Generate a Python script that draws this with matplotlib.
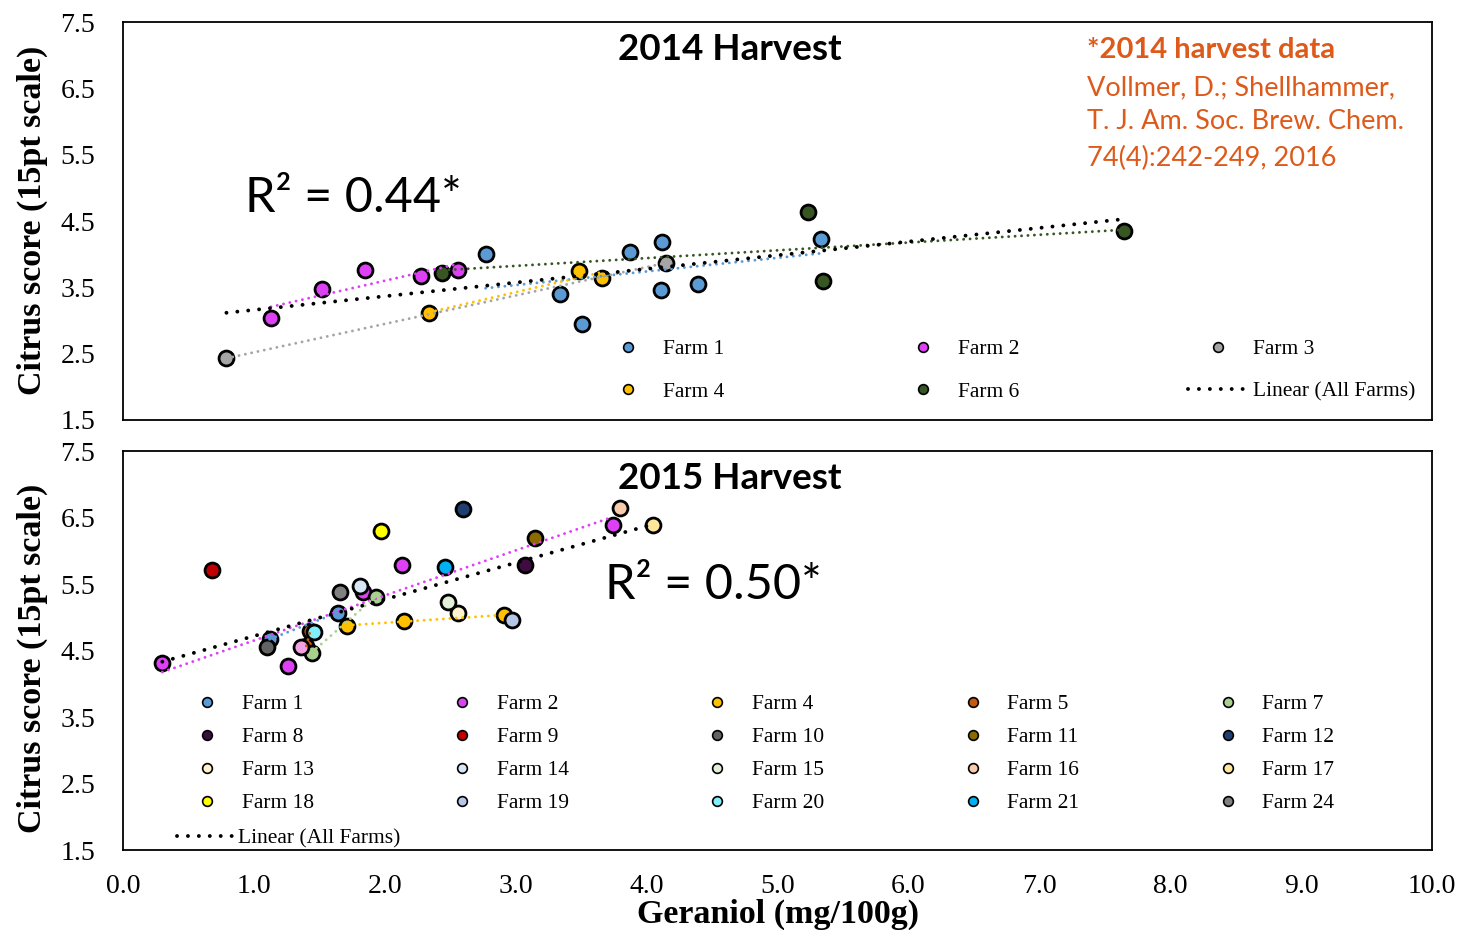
import numpy as np
import matplotlib
matplotlib.use('Agg')
from matplotlib import pyplot as plt
from matplotlib.lines import Line2D

plt.rcParams['font.family'] = ['Liberation Serif', 'DejaVu Serif']

# 2014 harvest: geraniol (mg/100g) vs citrus score
farms_2014 = ['Farm 1', 'Farm 2', 'Farm 3', 'Farm 4', 'Farm 6']
colors_2014 = ['#5B9BD5', '#DD40F5', '#A5A5A5', '#FFC000', '#375623']
x_2014 = [
    [2.77, 3.34, 3.51, 3.87, 4.11, 4.12, 4.39, 5.33],
    [1.13, 1.52, 1.85, 2.28, 2.56],
    [0.79, 4.15],
    [2.34, 3.48, 3.66],
    [2.44, 5.23, 5.35, 7.65],
]
y_2014 = [
    [4.00, 3.40, 2.95, 4.03, 3.46, 4.18, 3.55, 4.23],
    [3.04, 3.47, 3.76, 3.67, 3.76],
    [2.43, 3.87],
    [3.11, 3.75, 3.64],
    [3.72, 4.64, 3.60, 4.35],
]

# 2015 harvest
farms_2015 = ['Farm 1', 'Farm 2', 'Farm 4', 'Farm 5', 'Farm 7', 'Farm 8', 'Farm 9',
              'Farm 10', 'Farm 11', 'Farm 12', 'Farm 13', 'Farm 14', 'Farm 15',
              'Farm 16', 'Farm 17', 'Farm 18', 'Farm 19', 'Farm 20', 'Farm 21',
              'Farm 24', '_extra']
colors_2015 = ['#5B9BD5', '#DD40F5', '#FFC000', '#C55A11', '#A9D18E', '#3F0C3F',
               '#C00000', '#636363', '#8C6A00', '#203F70', '#FFF2CC', '#D6E6F5',
               '#E2F0D9', '#F8CBAD', '#FFE699', '#FFFF00', '#B4C7E7', '#7FEFFA',
               '#00B0F0', '#808080', '#F2A2E2']
x_2015 = [
    [1.12, 1.64],
    [0.30, 1.26, 1.83, 2.13, 3.74],
    [1.71, 2.15, 2.91],
    [1.43, 1.40],
    [1.44, 1.93],
    [3.07],
    [0.68],
    [1.10],
    [3.15],
    [2.60],
    [2.56],
    [1.81],
    [2.48],
    [3.80],
    [4.05],
    [1.97],
    [2.97],
    [1.46],
    [2.46],
    [1.66],
    [1.36],
]
y_2015 = [
    [4.67, 5.07],
    [4.31, 4.27, 5.38, 5.79, 6.39],
    [4.87, 4.95, 5.03],
    [4.79, 4.57],
    [4.47, 5.31],
    [5.79],
    [5.71],
    [4.55],
    [6.19],
    [6.63],
    [5.07],
    [5.47],
    [5.23],
    [6.64],
    [6.39],
    [6.30],
    [4.96],
    [4.78],
    [5.76],
    [5.38],
    [4.55],
]

y_ticks = [1.5, 2.5, 3.5, 4.5, 5.5, 6.5, 7.5]
x_ticks = [0.0, 1.0, 2.0, 3.0, 4.0, 5.0, 6.0, 7.0, 8.0, 9.0, 10.0]

orange = '#DD5A1A'
farm_dots = (0, (0.01, 2.2))
all_dots = (0, (0.01, 2.8))


def draw_panel(ax, farms, colors, xs, ys):
    for name, c, xv, yv in zip(farms, colors, xs, ys):
        ax.scatter(xv, yv, s=115, color=c, edgecolor='black', linewidth=2, zorder=2)
        if len(xv) > 1:
            k, b = np.polyfit(xv, yv, 1)
            xx = np.array([min(xv), max(xv)])
            ax.plot(xx, k * xx + b, color=c, lw=2.1, linestyle=farm_dots,
                    dash_capstyle='round', zorder=3)
    allx = np.concatenate([np.array(v) for v in xs])
    ally = np.concatenate([np.array(v) for v in ys])
    k, b = np.polyfit(allx, ally, 1)
    xx = np.array([allx.min(), allx.max()])
    ax.plot(xx, k * xx + b, color='black', lw=2.8, linestyle=all_dots,
            dash_capstyle='round', zorder=4)
    ax.set_xlim(0, 10)
    ax.set_ylim(1.5, 7.5)
    ax.set_yticks(y_ticks)
    ax.set_yticklabels(['%.1f' % t for t in y_ticks])
    ax.set_xticks(x_ticks)
    ax.tick_params(length=0, labelsize=20, pad=20)
    ax.tick_params(axis='x', pad=17)
    for sp in ax.spines.values():
        sp.set_linewidth(1.3)


def handle(c):
    return Line2D([], [], marker='o', linestyle='none', markersize=7,
                  markerfacecolor=c, markeredgecolor='black', markeredgewidth=1.2)


linear_handle = Line2D([], [], color='black', lw=2.8, linestyle=all_dots,
                       dash_capstyle='round')

fig = plt.figure(figsize=(14.63, 9.3), dpi=100)
ax1 = fig.add_axes([0.0841, 0.5484, 0.8947, 0.4279])
ax2 = fig.add_axes([0.0841, 0.086, 0.8947, 0.429])

draw_panel(ax1, farms_2014, colors_2014, x_2014, y_2014)
ax1.set_xticklabels([])
draw_panel(ax2, farms_2015, colors_2015, x_2015, y_2015)
ax2.set_xticklabels(['%.1f' % t for t in x_ticks])

# legend 2014 (column-major order to get rows Farm1-3 / Farm4,6,Linear)
h14 = [handle(c) for c in colors_2014] + [linear_handle]
l14 = farms_2014 + ['Linear (All Farms)']
order = [0, 3, 1, 4, 2, 5]
ax1.legend([h14[i] for i in order], [l14[i] for i in order], ncol=3,
           loc='upper left', bbox_to_anchor=(0.363, 0.203), frameon=False,
           fontsize=15.5, handlelength=2.8, handletextpad=0.2, columnspacing=7.85,
           labelspacing=1.05, borderpad=0, borderaxespad=0)

# legend 2015, rows read left to right
h15 = [handle(c) for c in colors_2015[:20]]
order15 = [r * 5 + c for c in range(5) for r in range(4)]
leg = ax2.legend([h15[i] for i in order15], [farms_2015[i] for i in order15],
                 ncol=5, loc='upper left', bbox_to_anchor=(0.0413, 0.391),
                 frameon=False, fontsize=15.5, handlelength=2.8,
                 handletextpad=0.2, columnspacing=5.5, labelspacing=0.6,
                 borderpad=0, borderaxespad=0)
ax2.add_artist(leg)
ax2.legend([linear_handle], ['Linear (All Farms)'], loc='upper left',
           bbox_to_anchor=(0.0413, 0.053), frameon=False, fontsize=15.5,
           handlelength=2.8, handletextpad=0.05, borderpad=0, borderaxespad=0)

ax1.text(0.4637, 0.932, '2014 Harvest', transform=ax1.transAxes, ha='center',
         va='center', fontsize=26.5, fontweight='bold', family='Lato')
ax2.text(0.4637, 0.93, '2015 Harvest', transform=ax2.transAxes, ha='center',
         va='center', fontsize=26.5, fontweight='bold', family='Lato')
ax1.text(0.093, 0.558, 'R² = 0.44*', transform=ax1.transAxes, ha='left',
         va='center', fontsize=35, family='Lato')
ax2.text(0.368, 0.664, 'R² = 0.50*', transform=ax2.transAxes, ha='left',
         va='center', fontsize=35, family='Lato')

ax1.text(0.7365, 0.93, '*2014 harvest data', transform=ax1.transAxes,
         ha='left', va='center', fontsize=21, fontweight='bold', color=orange,
         family='Lato')
ref_lines = ['Vollmer, D.; Shellhammer,', 'T. J. Am. Soc. Brew. Chem.',
             '74(4):242-249, 2016']
for txt, yy in zip(ref_lines, [0.834, 0.749, 0.656]):
    ax1.text(0.7365, yy, txt, transform=ax1.transAxes, ha='left', va='center',
             fontsize=19.5, color=orange, family='Lato')

fig.text(0.0219, 0.7634, 'Citrus score (15pt scale)', rotation=90, ha='center',
         va='center', fontsize=24.5, fontweight='bold')
fig.text(0.0219, 0.2925, 'Citrus score (15pt scale)', rotation=90, ha='center',
         va='center', fontsize=24.5, fontweight='bold')
fig.text(0.5318, 0.0165, 'Geraniol (mg/100g)', ha='center', va='center',
         fontsize=24.5, fontweight='bold')

fig.savefig('out.png', dpi=100)
